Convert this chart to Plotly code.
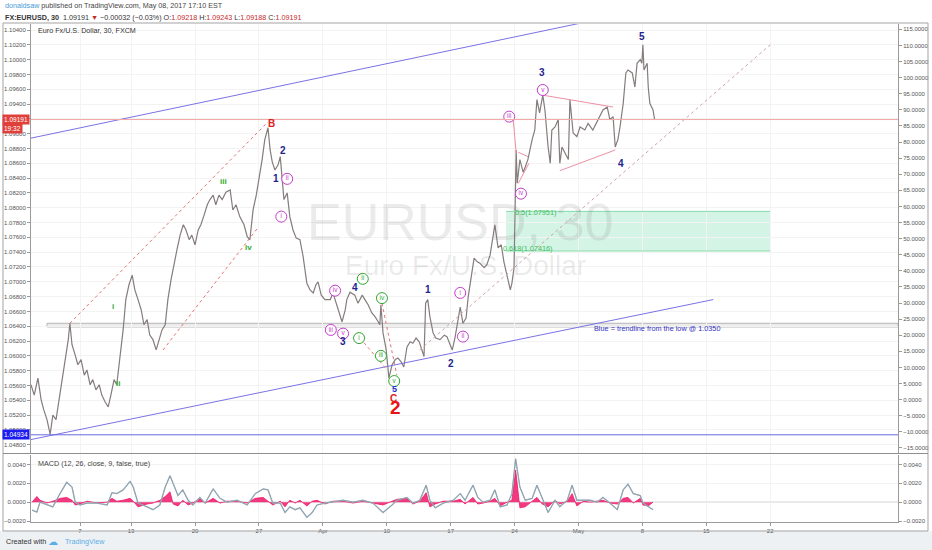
import plotly.graph_objects as go

FONT = "Liberation Sans, Arial, sans-serif"


def ts(s):
    md, hh = s.split()
    return "2017-" + md + " " + hh + ":00"


# ---------------- price (30-min closes) ----------------
price_times = [
    "03-01 04", "03-01 10", "03-01 17", "03-01 23", "03-02 04", "03-02 10", "03-02 16", "03-02 21",
    "03-03 03", "03-03 09", "03-03 14", "03-03 20", "03-06 02", "03-06 05", "03-06 09", "03-06 15",
    "03-06 20", "03-07 02", "03-07 08", "03-07 13", "03-07 19", "03-08 00", "03-08 06", "03-08 12",
    "03-08 17", "03-08 23", "03-09 05", "03-09 10", "03-09 16", "03-09 21", "03-10 03", "03-10 09",
    "03-10 14", "03-10 20", "03-13 02", "03-13 07", "03-13 13", "03-13 19", "03-14 00", "03-14 06",
    "03-14 11", "03-14 17", "03-14 23", "03-15 04", "03-15 10", "03-15 16", "03-15 21", "03-16 03",
    "03-16 08", "03-16 14", "03-16 20", "03-17 02", "03-17 07", "03-17 13", "03-17 18", "03-20 00",
    "03-20 06", "03-20 11", "03-20 17", "03-20 23", "03-21 04", "03-21 10", "03-21 15", "03-21 21",
    "03-22 03", "03-22 10", "03-22 18", "03-22 23", "03-23 05", "03-23 12", "03-23 20", "03-24 02",
    "03-24 07", "03-24 13", "03-24 19", "03-27 00", "03-27 06", "03-27 11", "03-27 17", "03-27 21",
    "03-28 01", "03-28 06", "03-28 12", "03-28 16", "03-28 19", "03-28 23", "03-29 05", "03-29 10",
    "03-29 16", "03-29 22", "03-30 05", "03-30 11", "03-30 18", "03-31 00", "03-31 06", "03-31 11",
    "03-31 15", "03-31 21", "04-03 04", "04-03 14", "04-03 19", "04-04 03", "04-04 08", "04-04 12",
    "04-04 18", "04-04 21", "04-05 03", "04-05 12", "04-05 18", "04-06 02", "04-06 07", "04-06 13",
    "04-06 20", "04-07 02", "04-07 08", "04-07 11", "04-07 13", "04-07 17", "04-07 23", "04-10 04",
    "04-10 10", "04-10 16", "04-10 21", "04-11 03", "04-11 08", "04-11 14", "04-11 20", "04-12 01",
    "04-12 07", "04-12 13", "04-12 18", "04-12 22", "04-13 01", "04-13 05", "04-13 09", "04-13 15",
    "04-13 20", "04-14 04", "04-14 12", "04-14 17", "04-14 23", "04-17 03", "04-17 08", "04-17 14",
    "04-17 18", "04-17 23", "04-18 05", "04-18 09", "04-18 12", "04-18 16", "04-18 20", "04-19 02",
    "04-19 07", "04-19 15", "04-19 20", "04-20 02", "04-20 08", "04-20 11", "04-20 17", "04-20 23",
    "04-21 04", "04-21 10", "04-21 16", "04-21 19", "04-21 23", "04-24 03", "04-24 05", "04-24 10",
    "04-24 16", "04-24 20", "04-25 01", "04-25 09", "04-25 14", "04-25 18", "04-25 23", "04-26 05",
    "04-26 09", "04-26 15", "04-26 19", "04-26 22", "04-27 04", "04-27 10", "04-27 13", "04-27 17",
    "04-27 23", "04-28 05", "04-28 08", "04-28 14", "04-28 21", "05-01 03", "05-01 12", "05-01 18",
    "05-02 03", "05-02 13", "05-02 22", "05-03 06", "05-03 11", "05-03 17", "05-03 21", "05-04 02",
    "05-04 06", "05-04 12", "05-04 17", "05-04 21", "05-05 05", "05-05 10", "05-05 14", "05-05 20",
    "05-05 23", "05-08 01", "05-08 03", "05-08 09", "05-08 11", "05-08 14", "05-08 20", "05-08 23",
]
price_close = [
    1.0561, 1.0547, 1.0570, 1.0541, 1.0527, 1.0514, 1.0494, 1.0520,
    1.0514, 1.0541, 1.0568, 1.0595, 1.0622, 1.0644, 1.0615, 1.0601,
    1.0588, 1.0595, 1.0574, 1.0581, 1.0561, 1.0568, 1.0554, 1.0561,
    1.0547, 1.0538, 1.0531, 1.0547, 1.0568, 1.0561, 1.0595, 1.0635,
    1.0676, 1.0696, 1.0709, 1.0689, 1.0676, 1.0662, 1.0642, 1.0649,
    1.0628, 1.0622, 1.0608, 1.0622, 1.0635, 1.0642, 1.0676, 1.0703,
    1.0723, 1.0743, 1.0763, 1.0777, 1.0770, 1.0757, 1.0763, 1.0750,
    1.0770, 1.0777, 1.0790, 1.0804, 1.0811, 1.0817, 1.0804, 1.0817,
    1.0811, 1.0821, 1.0824, 1.0797, 1.0804, 1.0788, 1.0777, 1.0761,
    1.0757, 1.0797, 1.0817, 1.0838, 1.0865, 1.0892, 1.0908, 1.0878,
    1.0862, 1.0851, 1.0858, 1.0869, 1.0842, 1.0811, 1.0820, 1.0788,
    1.0770, 1.0759, 1.0757, 1.0734, 1.0698, 1.0689, 1.0685, 1.0696,
    1.0700, 1.0682, 1.0676, 1.0676, 1.0685, 1.0666, 1.0655, 1.0646,
    1.0662, 1.0676, 1.0686, 1.0682, 1.0671, 1.0682, 1.0676, 1.0669,
    1.0658, 1.0653, 1.0646, 1.0642, 1.0669, 1.0631, 1.0608, 1.0570,
    1.0588, 1.0595, 1.0597, 1.0592, 1.0585, 1.0612, 1.0619, 1.0617,
    1.0624, 1.0619, 1.0608, 1.0599, 1.0671, 1.0676, 1.0653, 1.0631,
    1.0624, 1.0622, 1.0628, 1.0626, 1.0615, 1.0608, 1.0624, 1.0653,
    1.0666, 1.0644, 1.0651, 1.0680, 1.0696, 1.0716, 1.0732, 1.0727,
    1.0725, 1.0719, 1.0723, 1.0736, 1.0763, 1.0777, 1.0746, 1.0750,
    1.0727, 1.0709, 1.0689, 1.0698, 1.0719, 1.0878, 1.0833, 1.0865,
    1.0848, 1.0855, 1.0865, 1.0892, 1.0905, 1.0946, 1.0928, 1.0952,
    1.0932, 1.0882, 1.0860, 1.0905, 1.0909, 1.0919, 1.0860, 1.0882,
    1.0874, 1.0865, 1.0946, 1.0901, 1.0896, 1.0909, 1.0905, 1.0914,
    1.0905, 1.0919, 1.0932, 1.0936, 1.0919, 1.0923, 1.0882, 1.0892,
    1.0909, 1.0941, 1.0982, 1.0986, 1.0982, 1.0963, 1.0995, 1.1000,
    1.0995, 1.1020, 1.0986, 1.0995, 1.0963, 1.0941, 1.0932, 1.0919,
]

# ---------------- MACD pane ----------------
macd_times = [
    "03-01 06", "03-01 15", "03-01 21", "03-02 10", "03-02 21", "03-03 11", "03-03 23", "03-06 09",
    "03-06 15", "03-07 00", "03-07 13", "03-08 08", "03-09 03", "03-09 12", "03-09 21", "03-10 09",
    "03-10 22", "03-13 04", "03-13 13", "03-14 06", "03-14 17", "03-15 06", "03-15 16", "03-16 01",
    "03-16 07", "03-16 16", "03-17 01", "03-17 11", "03-17 20", "03-20 09", "03-20 19", "03-21 10",
    "03-21 23", "03-22 12", "03-23 07", "03-24 02", "03-24 17", "03-27 08", "03-27 17", "03-28 02",
    "03-28 16", "03-29 01", "03-29 10", "03-29 20", "03-30 05", "03-30 18", "03-31 04", "03-31 13",
    "04-03 04", "04-03 19", "04-04 14", "04-05 09", "04-06 03", "04-06 22", "04-07 17", "04-10 10",
    "04-10 19", "04-11 14", "04-12 01", "04-12 14", "04-13 02", "04-13 09", "04-13 19", "04-14 10",
    "04-17 05", "04-17 18", "04-18 03", "04-18 18", "04-19 03", "04-19 13", "04-20 02", "04-20 11",
    "04-20 21", "04-21 10", "04-21 19", "04-24 02", "04-24 10", "04-24 20", "04-25 09", "04-25 18",
    "04-26 04", "04-26 15", "04-27 04", "04-27 13", "04-28 03", "04-28 12", "04-28 21", "05-01 09",
    "05-01 22", "05-02 11", "05-02 22", "05-03 11", "05-04 01", "05-04 12", "05-04 21", "05-05 07",
    "05-05 20", "05-08 01", "05-08 11", "05-08 20",
]
macd_values = [
    -0.00084, -0.00105, 0.0000, -0.0003, -0.0005, 0.00095, 0.0021, 0.0016,
    0.0000, -0.0003, -0.0001, -0.0001, -0.0003, 0.0010, 0.0009, 0.0013,
    0.0022, 0.0016, -0.0001, -0.0005, -0.0008, -0.0003, 0.0016, 0.0028,
    0.0020, 0.0007, 0.0013, 0.0002, -0.0003, 0.0005, -0.0001, 0.0014,
    0.0004, 0.0000, 0.0002, -0.0003, 0.0009, 0.0014, 0.0013, -0.0001,
    -0.0001, -0.0011, -0.0005, -0.0008, -0.0006, -0.0016, -0.0011, -0.0003,
    -0.0001, 0.0000, 0.0002, 0.0000, 0.0002, -0.0001, -0.0011, -0.0003,
    0.0002, 0.0005, -0.0001, 0.0002, 0.0018, 0.0002, -0.0006, -0.0001,
    0.0002, 0.0009, 0.0002, 0.0018, 0.0005, 0.0000, 0.0002, 0.0013,
    -0.0005, -0.0003, 0.0009, 0.0046, 0.0016, 0.0002, 0.0004, 0.0018,
    0.0005, -0.0011, 0.0002, -0.0005, 0.0002, 0.0018, 0.0002, 0.0002,
    0.0002, 0.0000, 0.0005, -0.0001, -0.0008, 0.0013, 0.0019, 0.0009,
    0.0007, -0.0001, -0.0005, -0.0008,
]
hist_values = [
    0.0000, 0.0006, 0.0002, -0.0001, 0.0001, 0.0004, 0.0005, 0.0002,
    -0.0003, -0.0002, 0.0001, -0.0001, 0.0000, 0.0004, 0.0001, 0.0002,
    0.0004, 0.0001, -0.0005, -0.0002, -0.0001, 0.0002, 0.0006, 0.0011,
    -0.0002, -0.0004, 0.0002, -0.0003, -0.0001, 0.0004, -0.0001, 0.0004,
    -0.0001, 0.0001, 0.0001, -0.0001, 0.0004, 0.0005, 0.0001, -0.0003,
    0.0001, -0.0005, 0.0002, -0.0001, 0.0002, -0.0004, 0.0001, 0.0002,
    -0.0002, 0.0001, 0.0001, -0.0001, 0.0001, -0.0001, -0.0003, 0.0001,
    0.0003, 0.0004, -0.0002, 0.0001, 0.0010, -0.0005, -0.0002, 0.0001,
    0.0001, 0.0003, -0.0002, 0.0005, -0.0002, -0.0001, 0.0001, 0.0004,
    -0.0004, 0.0000, 0.0002, 0.0034, -0.0006, -0.0005, 0.0001, 0.0005,
    -0.0002, -0.0005, 0.0002, -0.0002, 0.0001, 0.0009, -0.0004, 0.0001,
    0.0000, 0.0001, 0.0002, -0.0001, -0.0002, 0.0004, 0.0005, -0.0001,
    0.0004, -0.0003, -0.0004, 0.0000,
]

# ---------------- axes ----------------
x_tick_dates = ["03-07 00", "03-13 00", "03-20 00", "03-27 00", "04-03 00", "04-10 00",
                "04-17 00", "04-24 00", "05-01 00", "05-08 00", "05-15 00", "05-22 00"]
x_tick_text = ["7", "13", "20", "27", "Apr", "10", "17", "24", "May", "8", "15", "22"]
x_range = ["2017-03-01 04:00", "2017-06-02 23:59"]
price_range = [1.046884, 1.10481]
right_range = [-16.58, 116.65]
macd_range = [-0.002105, 0.00505]

# ---------------- drawings ----------------
upper_channel_t = ["03-01 04", "05-01 22"]
upper_channel_p = [1.0894, 1.1052]
lower_channel_t = ["03-01 04", "05-15 13"]
lower_channel_p = [1.0487, 1.0676]
red_dotted = [
    (["03-06 05", "03-27 17"], [1.0644, 1.0916]),
    (["03-15 12", "03-24 22"], [1.0608, 1.0773]),
    (["04-05 22", "04-07 21"], [1.0624, 1.0584]),
    (["04-07 15", "04-10 19"], [1.0671, 1.0574]),
]
gray_dotted_t = ["04-12 14", "05-22 00"]
gray_dotted_p = [1.0608, 1.1020]
pink_lines = [
    (["04-26 05", "05-03 17"], [1.0952, 1.0936]),
    (["04-27 13", "05-03 21"], [1.0850, 1.0878]),
    (["04-21 21", "04-24 03"], [1.0923, 1.0874]),
    (["04-24 07", "04-25 01"], [1.0875, 1.0869]),
    (["04-24 07", "04-25 03"], [1.0833, 1.0860]),
]
last_price = 1.09191
low_price = 1.04934
band_low, band_high = 1.0639, 1.0644
band_start = "03-02 10"
fib_start, fib_end = "04-21 08", "05-22 00"
fib_50, fib_618 = 1.07951, 1.07416

navy_labels = [("2", "03-28 21", 1.0877), ("1", "03-28 08", 1.0839), ("4", "04-05 13", 1.0692),
               ("3", "04-04 14", 1.0620), ("1", "04-13 05", 1.0690), ("2", "04-17 01", 1.0590),
               ("3", "04-26 03", 1.0982), ("4", "05-04 08", 1.0860), ("5", "05-05 23", 1.1031)]
green_plain = [("i", "03-09 14", 1.0666), ("ii", "03-09 23", 1.0563),
               ("iii", "03-22 06", 1.0835), ("iv", "03-24 05", 1.0746)]
purple_circ = [("ii", "03-29 05", 1.0839), ("i", "03-28 18", 1.0788), ("iv", "04-03 23", 1.0688),
               ("iii", "04-03 15", 1.0635), ("v", "04-04 14", 1.0630), ("i", "04-17 18", 1.0685),
               ("ii", "04-17 23", 1.0626), ("iii", "04-21 14", 1.0923), ("iv", "04-24 12", 1.0819),
               ("v", "04-26 05", 1.0959)]
green_circ = [("ii", "04-06 03", 1.0704), ("iv", "04-07 15", 1.0678), ("i", "04-05 20", 1.0624),
              ("iii", "04-07 13", 1.0600), ("v", "04-10 14", 1.0566)]

NAVY = "#23238f"
PURPLE = "#c43ccc"
GREEN = "#2fa82f"
PINK = "#ec8fa3"
CHAN = "#7a72e6"

fig = go.Figure()

# price line
fig.add_trace(go.Scatter(x=[ts(t) for t in price_times], y=price_close, mode="lines",
                         line=dict(color="#857c7c", width=1.2), xaxis="x", yaxis="y"))

# channel lines
fig.add_trace(go.Scatter(x=[ts(t) for t in upper_channel_t], y=upper_channel_p, mode="lines",
                         line=dict(color=CHAN, width=1), xaxis="x", yaxis="y"))
fig.add_trace(go.Scatter(x=[ts(t) for t in lower_channel_t], y=lower_channel_p, mode="lines",
                         line=dict(color=CHAN, width=1), xaxis="x", yaxis="y"))
for tt, pp in red_dotted:
    fig.add_trace(go.Scatter(x=[ts(t) for t in tt], y=pp, mode="lines",
                             line=dict(color="#e57373", width=1, dash="dot"), xaxis="x", yaxis="y"))
fig.add_trace(go.Scatter(x=[ts(t) for t in gray_dotted_t], y=gray_dotted_p, mode="lines",
                         line=dict(color="#cfa3a8", width=1, dash="dot"), xaxis="x", yaxis="y"))
for tt, pp in pink_lines:
    fig.add_trace(go.Scatter(x=[ts(t) for t in tt], y=pp, mode="lines",
                             line=dict(color=PINK, width=1), xaxis="x", yaxis="y"))

# circled labels
for items, col in ((purple_circ, PURPLE), (green_circ, GREEN)):
    fig.add_trace(go.Scatter(
        x=[ts(t) for _, t, _ in items], y=[p for _, _, p in items], mode="markers+text",
        text=[s for s, _, _ in items], textposition="middle center",
        textfont=dict(family=FONT, size=6.5, color=col),
        marker=dict(symbol="circle", size=11, color="white", line=dict(color=col, width=1)),
        xaxis="x", yaxis="y"))

# invisible trace for right axis
fig.add_trace(go.Scatter(x=[x_range[0]], y=[0], mode="markers", marker=dict(opacity=0),
                         xaxis="x", yaxis="y2"))

# MACD pane
fig.add_trace(go.Scatter(x=[ts(t) for t in macd_times], y=hist_values, mode="lines",
                         line=dict(color="#f0186a", width=0.8), fill="tozeroy",
                         fillcolor="rgba(240,24,106,0.85)", xaxis="x2", yaxis="y3"))
fig.add_trace(go.Scatter(x=[ts(t) for t in macd_times], y=macd_values, mode="lines",
                         line=dict(color="#8fb2c8", width=1.3), xaxis="x2", yaxis="y3"))
fig.add_trace(go.Scatter(x=[ts(t) for t in macd_times], y=macd_values, mode="lines",
                         line=dict(color="#9a9a9a", width=0.7), xaxis="x2", yaxis="y3"))
fig.add_trace(go.Scatter(x=[x_range[0]], y=[0], mode="markers", marker=dict(opacity=0),
                         xaxis="x2", yaxis="y4"))

# ---------------- shapes ----------------
L, R, T, B = 31, 898, 24, 522
W, H = R - L, B - T


def px(xp):
    return (xp - L) / W


def py(yp):
    return (B - yp) / H


shapes = [
    # bottom strip background
    dict(type="rect", xref="paper", yref="paper", x0=px(0), x1=px(932), y0=py(550), y1=py(531),
         fillcolor="#eef1f4", line=dict(width=0), layer="below"),
    # fib zone
    dict(type="rect", xref="x", yref="y", x0=ts(fib_start), x1=ts(fib_end), y0=fib_618, y1=fib_50,
         fillcolor="rgba(120,220,175,0.32)", line=dict(width=0), layer="below"),
    dict(type="line", xref="x", yref="y", x0=ts(fib_start), x1=ts(fib_end), y0=fib_50, y1=fib_50,
         line=dict(color="#86dcac", width=1)),
    dict(type="line", xref="x", yref="y", x0=ts(fib_start), x1=ts(fib_end), y0=fib_618, y1=fib_618,
         line=dict(color="#86dcac", width=1)),
    # gray support band
    dict(type="rect", xref="x", yref="y", x0=ts(band_start), x1=x_range[1], y0=band_low, y1=band_high,
         fillcolor="#ececec", line=dict(color="#b5b5b5", width=1), layer="below"),
    # horizontal lines
    dict(type="line", xref="paper", yref="y", x0=0, x1=1, y0=last_price, y1=last_price,
         line=dict(color="#f3a7a7", width=1)),
    dict(type="line", xref="paper", yref="y", x0=0, x1=1, y0=low_price, y1=low_price,
         line=dict(color="#6a6ae0", width=1)),
    # frame
    dict(type="rect", xref="paper", yref="paper", x0=px(3), x1=px(928), y0=py(531), y1=py(23),
         line=dict(color="#a3a3a3", width=1), fillcolor="rgba(0,0,0,0)"),
    dict(type="line", xref="paper", yref="paper", x0=px(3), x1=px(928), y0=py(453.5), y1=py(453.5),
         line=dict(color="#8f8f8f", width=1)),
]

# ---------------- annotations ----------------
ann = []
# header
ann.append(dict(xref="paper", yref="paper", x=px(3), y=py(6), xanchor="left", yanchor="middle",
                showarrow=False, font=dict(family=FONT, size=7.2, color="#444"),
                text='<span style="color:#4a9ad8">donaldsaw</span> published on TradingView.com, May 08, 2017 17:10 EST'))
red = "#c62828"
ann.append(dict(xref="paper", yref="paper", x=px(3), y=py(17), xanchor="left", yanchor="middle",
                showarrow=False, font=dict(family=FONT, size=7.2, color="#333"),
                text=('<b>FX:EURUSD, 30</b>  1.09191 <span style="color:%s">▼</span> −0.00032 (−0.03%%) '
                      'O:<span style="color:%s">1.09218</span> H:<span style="color:%s">1.09243</span> '
                      'L:<span style="color:%s">1.09188</span> C:<span style="color:%s">1.09191</span>')
                % (red, red, red, red, red)))
ann.append(dict(xref="paper", yref="paper", x=px(36), y=py(31), xanchor="left", yanchor="middle",
                showarrow=False, font=dict(family=FONT, size=7.2, color="#333"),
                text="Euro Fx/U.S. Dollar, 30, FXCM"))
ann.append(dict(xref="paper", yref="paper", x=px(36), y=py(463), xanchor="left", yanchor="middle",
                showarrow=False, font=dict(family=FONT, size=7.2, color="#444"),
                text="MACD (12, 26, close, 9, false, true)"))
# watermark
ann.append(dict(xref="paper", yref="paper", x=px(460), y=py(222), showarrow=False,
                font=dict(family=FONT, size=52, color="rgba(90,90,90,0.12)"), text="EURUSD, 30"))
ann.append(dict(xref="paper", yref="paper", x=px(465), y=py(265), showarrow=False,
                font=dict(family=FONT, size=28, color="rgba(90,90,90,0.12)"), text="Euro Fx/U.S. Dollar"))
# price badges on left axis
ann.append(dict(xref="paper", yref="y", x=px(30), y=last_price, xanchor="right", yanchor="middle",
                showarrow=False, bgcolor="#e0403a", borderpad=1,
                font=dict(family=FONT, size=6.5, color="white"), text="1.09191"))
ann.append(dict(xref="paper", yref="y", x=px(2), y=last_price, yshift=-9, xanchor="left", yanchor="middle",
                showarrow=False, bgcolor="#e0403a", borderpad=1,
                font=dict(family=FONT, size=6.5, color="white"), text="19:32"))
ann.append(dict(xref="paper", yref="y", x=px(30), y=low_price, xanchor="right", yanchor="middle",
                showarrow=False, bgcolor="#1c1cf0", borderpad=1,
                font=dict(family=FONT, size=6.5, color="white"), text="1.04934"))
# fib labels
ann.append(dict(xref="x", yref="y", x=ts("04-25 15"), y=fib_50, yshift=-1, showarrow=False,
                font=dict(family=FONT, size=7.3, color="#3cbf5c"), text="0.5(1.07951)"))
ann.append(dict(xref="x", yref="y", x=ts("04-25 02"), y=fib_618, yshift=2, showarrow=False,
                font=dict(family=FONT, size=7.3, color="#3cbf5c"), text="0.618(1.07416)"))
# trendline note
ann.append(dict(xref="x", yref="y", x=ts("05-02 02"), y=1.0637, xanchor="left", showarrow=False,
                font=dict(family=FONT, size=7.3, color="#3434c4"),
                text="Blue = trendline from the low @ 1.0350"))
# wave labels
for s, t, p in navy_labels:
    ann.append(dict(xref="x", yref="y", x=ts(t), y=p, showarrow=False,
                    font=dict(family=FONT, size=10, color=NAVY), text="<b>%s</b>" % s))
for s, t, p in green_plain:
    ann.append(dict(xref="x", yref="y", x=ts(t), y=p, showarrow=False,
                    font=dict(family=FONT, size=8, color=GREEN), text="<b>%s</b>" % s))
ann.append(dict(xref="x", yref="y", x=ts("03-27 23"), y=1.0914, showarrow=False,
                font=dict(family=FONT, size=10, color="#e02020"), text="<b>B</b>"))
ann.append(dict(xref="x", yref="y", x=ts("04-10 14"), y=1.0555, showarrow=False,
                font=dict(family=FONT, size=9, color="#2030d0"), text="<b>5</b>"))
ann.append(dict(xref="x", yref="y", x=ts("04-10 12"), y=1.0543, showarrow=False,
                font=dict(family=FONT, size=10, color="#e02020"), text="<b>C</b>"))
ann.append(dict(xref="x", yref="y", x=ts("04-10 17"), y=1.0530, showarrow=False,
                font=dict(family=FONT, size=19, color="#e81414"), text="<b>2</b>"))
# footer
ann.append(dict(xref="paper", yref="paper", x=px(4), y=py(541), xanchor="left", yanchor="middle",
                showarrow=False, font=dict(family=FONT, size=7.2, color="#333"), text="Created with"))
ann.append(dict(xref="paper", yref="paper", x=px(46), y=py(541), xanchor="left", yanchor="middle",
                showarrow=False, font=dict(family="DejaVu Sans", size=10, color="#5aaee8"), text="☁"))
ann.append(dict(xref="paper", yref="paper", x=px(63), y=py(541), xanchor="left", yanchor="middle",
                showarrow=False, font=dict(family=FONT, size=7.2, color="#5aaee8"), text="TradingView"))

tickfont = dict(family=FONT, size=6, color="#555")
main_bottom = py(453)
macd_top = py(454.5)

fig.update_layout(
    width=932, height=550,
    margin=dict(l=L, r=932 - R, t=T, b=550 - B, autoexpand=False),
    paper_bgcolor="white", plot_bgcolor="white", showlegend=False, hovermode=False,
    shapes=shapes, annotations=ann,
    xaxis=dict(domain=[0, 1], anchor="y", type="date", range=x_range,
               rangebreaks=[dict(bounds=["sat", "mon"])],
               tickvals=[ts(t) for t in x_tick_dates], showticklabels=False,
               showgrid=True, gridcolor="#f3f3f3", zeroline=False, showline=False, ticks=""),
    xaxis2=dict(domain=[0, 1], anchor="y3", type="date", range=x_range, matches="x",
                rangebreaks=[dict(bounds=["sat", "mon"])],
                tickvals=[ts(t) for t in x_tick_dates], ticktext=x_tick_text, tickfont=tickfont,
                showgrid=True, gridcolor="#f3f3f3", zeroline=False, showline=True,
                linecolor="#9a9a9a", ticks="outside", ticklen=3, tickcolor="#9a9a9a"),
    yaxis=dict(domain=[main_bottom, 1], anchor="x", range=price_range, tick0=1.048, dtick=0.002,
               tickformat=".5f", tickfont=tickfont, showgrid=True, gridcolor="#f3f3f3",
               zeroline=False, showline=True, linecolor="#9a9a9a", ticks="outside", ticklen=3,
               tickcolor="#9a9a9a"),
    yaxis2=dict(overlaying="y", side="right", anchor="x", range=right_range, tick0=0, dtick=5,
                tickformat=".4f", tickfont=tickfont, showgrid=False, zeroline=False,
                showline=True, linecolor="#9a9a9a", ticks="outside", ticklen=3, tickcolor="#9a9a9a"),
    yaxis3=dict(domain=[0, macd_top], anchor="x2", range=macd_range, tick0=0, dtick=0.002,
                tickformat=".4f", tickfont=tickfont, showgrid=True, gridcolor="#f3f3f3",
                zeroline=True, zerolinecolor="#eaeaea", showline=True, linecolor="#9a9a9a",
                ticks="outside", ticklen=3, tickcolor="#9a9a9a"),
    yaxis4=dict(overlaying="y3", side="right", anchor="x2", range=macd_range, tick0=0, dtick=0.002,
                tickformat=".4f", tickfont=tickfont, showgrid=False, zeroline=False,
                showline=True, linecolor="#9a9a9a", ticks="outside", ticklen=3, tickcolor="#9a9a9a"),
)

fig.write_html("out.html", config={"displayModeBar": False, "staticPlot": True},
               post_script="document.body.style.margin='0';document.body.style.overflow='hidden';")
